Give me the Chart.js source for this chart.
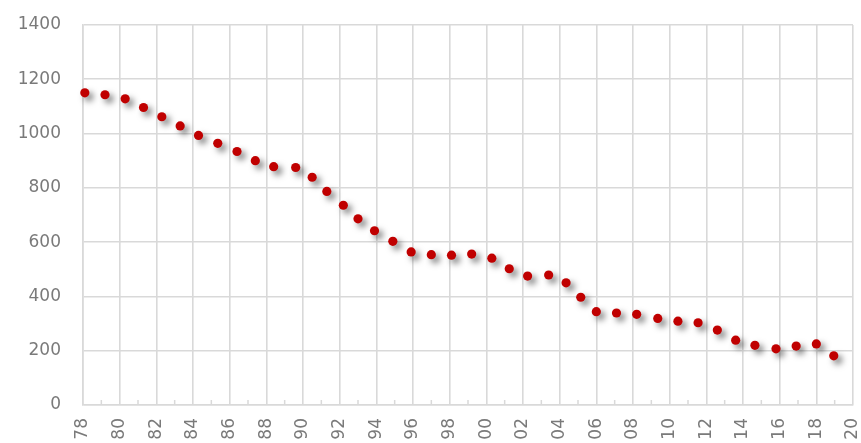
<!DOCTYPE html>
<html>
<head>
<meta charset="utf-8">
<script src="https://cdn.jsdelivr.net/npm/chart.js@4"></script>
<style>
    html, body { margin: 0; padding: 0; background: #ffffff; }
    #wrap { width: 861px; height: 443px; }
</style>
</head>
<body>
<div id="wrap"><canvas id="chart"></canvas></div>
<script>
// ================= DATA =================
const years = [
    1978.1, 1979.2, 1980.3, 1981.3, 1982.3, 1983.3, 1984.3, 1985.35, 1986.4, 1987.4,
    1988.4, 1989.6, 1990.5, 1991.3, 1992.2, 1993.0, 1993.9, 1994.9, 1995.9, 1997.0,
    1998.1, 1999.2, 2000.3, 2001.25, 2002.25, 2003.4, 2004.35, 2005.15, 2006.0, 2007.1,
    2008.2, 2009.35, 2010.45, 2011.55, 2012.6, 2013.6, 2014.65, 2015.8, 2016.9, 2018.0,
    2018.95
];

const values = [
    1150, 1143, 1128, 1096, 1062, 1028, 993, 964, 934, 900,
    878, 875, 839, 787, 736, 686, 642, 603, 564, 554,
    552, 556, 541, 502, 475, 479, 450, 397, 344, 339,
    334, 319, 309, 303, 276, 239, 220, 207, 217, 225,
    181
];

const xRange = [1978, 2020];
const yRange = [0, 1400];
const xStep = 2;
const yStep = 200;

// ================= STYLE =================
const GRID = "#d9d9d9";
const TEXT = "#7a7a7a";
const POINT = "#c00000";

// ================= PLUGINS =================
const shadowPlugin = {
    id: "pointShadow",
    beforeDatasetsDraw(chart) {
        const ctx = chart.ctx;
        ctx.save();
        ctx.shadowColor = "rgba(0,0,0,0.5)";
        ctx.shadowBlur = 6;
        ctx.shadowOffsetX = 4;
        ctx.shadowOffsetY = 4;
    },
    afterDatasetsDraw(chart) {
        chart.ctx.restore();
    }
};

// small inside ticks on odd years
const minorTicks = {
    id: "minorTicks",
    beforeDatasetsDraw(chart) {
        const { ctx, scales: { x, y } } = chart;
        const base = y.getPixelForValue(yRange[0]);
        ctx.save();
        ctx.strokeStyle = GRID;
        ctx.lineWidth = 1.5;
        for (let v = xRange[0] + 1; v < xRange[1]; v += xStep) {
            const px = x.getPixelForValue(v);
            ctx.beginPath();
            ctx.moveTo(px, base);
            ctx.lineTo(px, base - 5);
            ctx.stroke();
        }
        ctx.restore();
    }
};

// ================= CHART =================
new Chart(document.getElementById("chart"), {
    type: "scatter",
    data: {
        datasets: [{
            data: years.map((yr, i) => ({ x: yr, y: values[i] })),
            backgroundColor: POINT,
            borderColor: POINT,
            borderWidth: 0,
            pointRadius: 4.6,
            pointHoverRadius: 4.6,
            clip: false
        }]
    },
    options: {
        responsive: true,
        maintainAspectRatio: false,
        animation: false,
        events: [],
        layout: { padding: { top: 25, right: 8, left: 0, bottom: 0 } },
        plugins: {
            legend: { display: false },
            tooltip: { enabled: false }
        },
        scales: {
            x: {
                type: "linear",
                min: xRange[0],
                max: xRange[1],
                afterBuildTicks(scale) {
                    const t = [];
                    for (let v = xRange[0]; v <= xRange[1]; v += xStep) t.push({ value: v });
                    scale.ticks = t;
                },
                afterFit(scale) {
                    scale.height = 38;
                    scale.paddingLeft = 0;
                    scale.paddingRight = 0;
                },
                grid: { color: GRID, lineWidth: 1.6, drawTicks: false },
                border: { color: GRID, width: 1.6 },
                ticks: {
                    color: TEXT,
                    font: { family: "DejaVu Sans", size: 17 },
                    minRotation: 90,
                    maxRotation: 90,
                    padding: 13,
                    callback: v => String(v % 100).padStart(2, "0")
                }
            },
            y: {
                min: yRange[0],
                max: yRange[1],
                afterFit(scale) {
                    scale.width = 83;
                    scale.paddingTop = 0;
                    scale.paddingBottom = 0;
                },
                grid: { color: GRID, lineWidth: 1.6, drawTicks: false },
                border: { color: GRID, width: 1.6 },
                ticks: {
                    stepSize: yStep,
                    color: TEXT,
                    font: { family: "DejaVu Sans", size: 17 },
                    padding: 22,
                    callback: v => String(v)
                }
            }
        }
    },
    plugins: [minorTicks, shadowPlugin]
});
</script>
</body>
</html>
